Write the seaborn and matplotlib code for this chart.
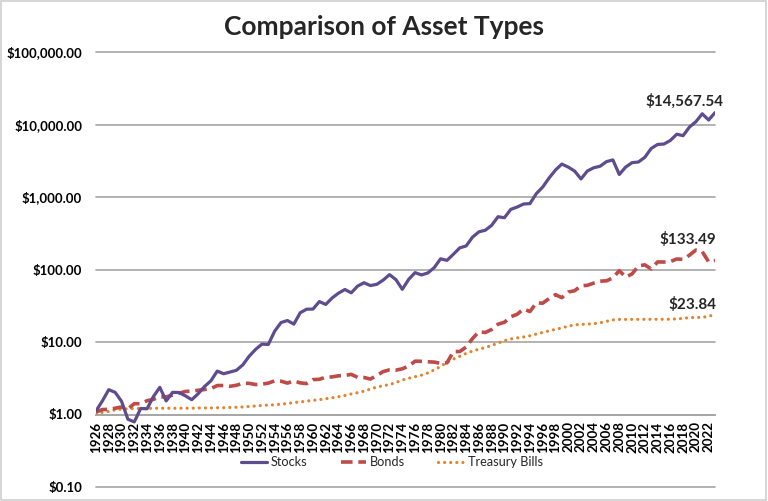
import matplotlib
matplotlib.use("Agg")
import matplotlib.pyplot as plt
import seaborn as sns
import numpy as np
import pandas as pd
from matplotlib.ticker import FixedLocator, FuncFormatter, NullLocator

years = list(range(1926, 2024))

stocks = [1.12, 1.54, 2.20, 2.02, 1.52, 0.86, 0.79, 1.21, 1.20, 1.77,
          2.37, 1.54, 2.02, 2.01, 1.81, 1.60, 1.93, 2.43, 2.91, 3.97,
          3.65, 3.85, 4.07, 4.83, 6.36, 7.89, 9.34, 9.24, 14.11, 18.56,
          19.78, 17.65, 25.30, 28.32, 28.46, 36.11, 32.95, 40.47, 47.14, 53.01,
          47.67, 59.10, 65.64, 60.06, 62.47, 71.41, 84.96, 72.50, 53.31, 73.14,
          90.58, 84.08, 89.59, 106.11, 140.51, 133.62, 162.22, 198.74, 211.20, 279.12,
          330.67, 347.97, 406.46, 534.46, 517.50, 675.59, 727.41, 800.08, 810.54, 1113.92,
          1370.95, 1828.33, 2350.89, 2845.63, 2586.52, 2279.13, 1775.34, 2284.79, 2533.20, 2657.55,
          3077.33, 3246.39, 2045.44, 2586.70, 2976.30, 3039.10, 3525.60, 4667.60, 5306.60, 5380.10,
          6023.60, 7338.30, 7016.30, 9225.50, 10923.0, 14058.0, 11535.0, 14567.54]

bonds = [1.08, 1.17, 1.18, 1.22, 1.27, 1.20, 1.41, 1.41, 1.55, 1.62,
         1.75, 1.75, 1.85, 1.96, 2.08, 2.10, 2.16, 2.21, 2.27, 2.51,
         2.51, 2.45, 2.53, 2.69, 2.69, 2.59, 2.62, 2.71, 2.91, 2.88,
         2.71, 2.91, 2.73, 2.67, 3.03, 3.06, 3.27, 3.30, 3.42, 3.45,
         3.58, 3.25, 3.24, 3.08, 3.45, 3.91, 4.13, 4.09, 4.27, 4.66,
         5.44, 5.41, 5.34, 5.28, 5.07, 5.16, 7.37, 7.39, 8.52, 11.15,
         13.88, 13.51, 14.88, 17.61, 18.70, 22.30, 24.12, 28.52, 26.30, 34.63,
         34.31, 39.77, 44.97, 40.87, 48.91, 50.93, 59.62, 60.48, 64.97, 69.14,
         69.75, 76.64, 96.39, 78.66, 86.75, 112.11, 115.90, 101.76, 127.08, 126.79,
         128.54, 139.62, 138.02, 157.88, 185.06, 176.50, 127.60, 133.49]

tbills = [1.03, 1.07, 1.10, 1.16, 1.18, 1.20, 1.21, 1.21, 1.21, 1.22,
          1.22, 1.22, 1.22, 1.22, 1.22, 1.22, 1.23, 1.23, 1.23, 1.24,
          1.24, 1.25, 1.26, 1.27, 1.29, 1.31, 1.33, 1.35, 1.36, 1.39,
          1.42, 1.46, 1.49, 1.53, 1.57, 1.60, 1.65, 1.70, 1.76, 1.83,
          1.92, 2.00, 2.10, 2.24, 2.39, 2.49, 2.59, 2.76, 2.99, 3.16,
          3.32, 3.49, 3.74, 4.13, 4.59, 5.27, 5.82, 6.34, 6.96, 7.50,
          7.96, 8.39, 8.93, 9.67, 10.43, 11.01, 11.40, 11.73, 12.19, 12.87,
          13.54, 14.25, 14.94, 15.64, 16.56, 17.20, 17.48, 17.66, 17.87, 18.40,
          19.28, 20.19, 20.48, 20.50, 20.53, 20.54, 20.56, 20.57, 20.57, 20.58,
          20.64, 20.83, 21.21, 21.69, 21.82, 21.83, 22.70, 23.84]

series_names = ["Stocks", "Bonds", "Treasury Bills"]
y_ticks = [0.1, 1, 10, 100, 1000, 10000, 100000]
title = "Comparison of Asset Types"

sns.set_style("white")
plt.rcParams['font.family'] = ['Lato', 'DejaVu Sans']

fig = plt.figure(figsize=(7.68, 5.01), dpi=100)
ax = fig.add_axes([96/768, 1-487/501, (715-96)/768, (487-52)/501])

colors = {"Stocks": "#5E4C8E", "Bonds": "#BE4B48", "Treasury Bills": "#E3832E"}

sns.lineplot(x=years, y=stocks, ax=ax, color=colors["Stocks"], linewidth=2.3,
             label=series_names[0], solid_joinstyle='round', zorder=5)
sns.lineplot(x=years, y=bonds, ax=ax, color=colors["Bonds"], linewidth=2.6,
             linestyle=(0, (3.2, 1.6)), label=series_names[1], zorder=4)
sns.lineplot(x=years, y=tbills, ax=ax, color=colors["Treasury Bills"], linewidth=2.3,
             linestyle=(0, (0.01, 1.9)), dash_capstyle='round', label=series_names[2], zorder=3)

# axis styling (spine position first, it resets ticks)
for s in ['top', 'right', 'left']:
    ax.spines[s].set_visible(False)
ax.spines['bottom'].set_position(('data', 1))
ax.spines['bottom'].set_color('#A6A6A6')
ax.spines['bottom'].set_linewidth(1.3)

ax.set_yscale('log')
ax.set_ylim(0.1, 100000)
ax.set_xlim(1926, 2023)
ax.yaxis.set_major_locator(FixedLocator(y_ticks))
ax.yaxis.set_minor_locator(NullLocator())
ax.yaxis.set_major_formatter(FuncFormatter(lambda v, p: "${:,.2f}".format(v)))
ax.tick_params(axis='y', length=0, pad=10, labelsize=9.5, labelcolor='black')
for lbl in ax.get_yticklabels():
    lbl.set_fontweight('bold')

for yv in y_ticks:
    ax.axhline(yv, color='#A6A6A6', linewidth=1.2, zorder=1, clip_on=False)

ax.set_xticks(years)
ax.xaxis.set_minor_locator(NullLocator())
ax.tick_params(axis='x', direction='inout', length=6, width=1, color='#A6A6A6',
               pad=2, labelcolor='black')
ax.set_xticklabels([str(y) if (y - 1926) % 2 == 0 else "" for y in years],
                   rotation=90, fontweight='bold', fontsize=9.6)
ax.set_xlabel("")
ax.set_ylabel("")

# data labels
ax.annotate("${:,.2f}".format(stocks[-1]), xy=(years[-1], stocks[-1]), xytext=(6, 3),
            textcoords='offset points', ha='right', va='bottom', fontsize=11, fontweight='bold')
ax.annotate("${:,.2f}".format(bonds[-1]), xy=(years[-1], bonds[-1]), xytext=(1, 10),
            textcoords='offset points', ha='right', va='bottom', fontsize=11, fontweight='bold')
ax.annotate("${:,.2f}".format(tbills[-1]), xy=(years[-1], tbills[-1]), xytext=(1, 2),
            textcoords='offset points', ha='right', va='bottom', fontsize=11, fontweight='bold')

ax.get_legend().remove()
handles, labels = ax.get_legend_handles_labels()
fig.legend(handles, labels, loc='center', bbox_to_anchor=(392/768, 1-462/501), ncol=3,
           frameon=False, fontsize=9.2, handlelength=2.0, columnspacing=2.6, handletextpad=0.3)

fig.text(384/768, 1-27/501, title, ha='center', va='center', fontsize=19, fontweight='bold')

fig.patches.append(plt.Rectangle((0.001, 0.001), 0.997, 0.997, transform=fig.transFigure,
                                 fill=False, edgecolor='#D0D0D0', linewidth=1.2))

fig.savefig("out.png", dpi=100)
